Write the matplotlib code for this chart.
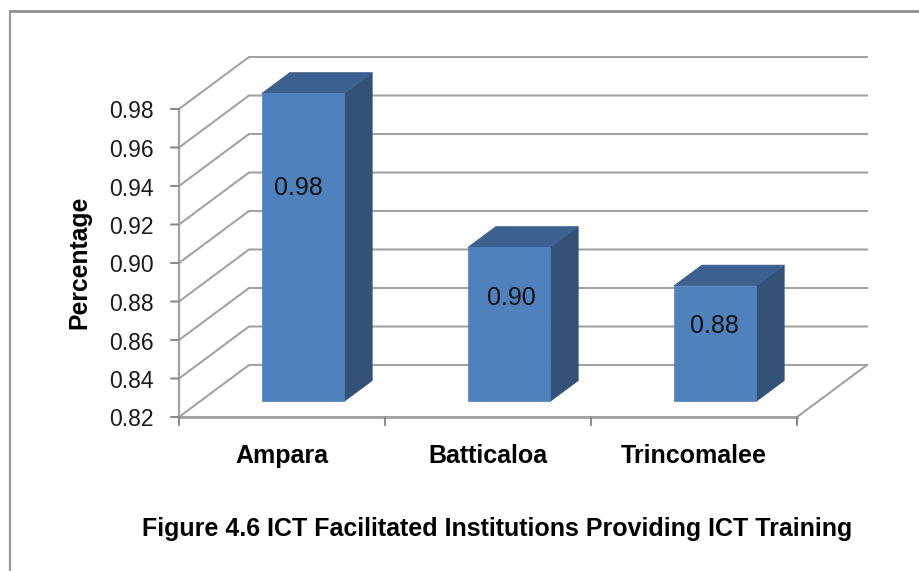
"""ICT facilitated institutions, pseudo-3D column chart drawn on a plain 2D axes"""
import numpy as np
import matplotlib
matplotlib.use('Agg')
import matplotlib.pyplot as plt
from matplotlib.lines import Line2D
from matplotlib.patches import Polygon

categories = ['Ampara', 'Batticaloa', 'Trincomalee']
values = [0.98, 0.90, 0.88]
value_labels = ['0.98', '0.90', '0.88']
y_ticks = [0.82, 0.84, 0.86, 0.88, 0.90, 0.92, 0.94, 0.96, 0.98]
title = 'Figure 4.6 ICT Facilitated Institutions Providing ICT Training'

W, H = 919, 571
plt.rcParams['font.family'] = ['Liberation Sans', 'DejaVu Sans']
fig = plt.figure(figsize=(W / 100, H / 100), dpi=100)

# outer chart frame, only top and left are inside the picture
fig.add_artist(Line2D([9.5 / W, 1], [1 - 11 / H, 1 - 11 / H], color='#8c8c8c', lw=1.9))
fig.add_artist(Line2D([9.5 / W, 9.5 / W], [0, 1 - 11 / H], color='#9a9a9a', lw=1.6))

# axes covers the front plane of the 3D box
x0, x1, y_bot, y_top = 179, 797, 417, 109
ax = fig.add_axes([x0 / W, 1 - y_bot / H, (x1 - x0) / W, (y_bot - y_top) / H])
ax.set_xlim(0, 3)
ax.set_ylim(0.82, 0.98)
ax.axis('off')

# one unit of depth, in data units
ddx = 70.0 / ((x1 - x0) / 3.0)
ddy = 52.0 / ((y_bot - y_top) / 0.16)


def proj(x, y, d):
    return (x + d * ddx, y + d * ddy)


grid_col = '#a3a3a3'
for t in y_ticks:
    p0 = proj(0, t, 0)
    p1 = proj(0, t, 1)
    p2 = proj(3, t, 1)
    ax.plot([p0[0], p1[0], p2[0]], [p0[1], p1[1], p2[1]], color=grid_col, lw=1.5,
            clip_on=False, solid_joinstyle='miter', zorder=1)

# floor edges and axis lines
fr = proj(3, 0.82, 1)
ax.plot([0, 3, fr[0]], [0.82, 0.82, fr[1]], color=grid_col, lw=1.5, clip_on=False, zorder=1)
ax.plot([0, 0], [0.82, 0.98], color=grid_col, lw=1.6, clip_on=False, zorder=1)
ax.plot([0, 3], [0.82, 0.82], color=grid_col, lw=2.0, clip_on=False, zorder=1)

for t in y_ticks:
    ax.annotate('', xy=(0, t), xytext=(-8, 0), textcoords='offset pixels', xycoords='data',
                arrowprops=dict(arrowstyle='-', color='#8c8c8c', lw=1.5, shrinkA=0, shrinkB=0))
    ax.annotate(f'{t:.2f}', xy=(0, t), xytext=(-25, -3), textcoords='offset pixels',
                ha='right', va='center', fontsize=16.5, color='#1a1a1a', annotation_clip=False)
for i in range(len(categories) + 1):
    ax.annotate('', xy=(i, 0.82), xytext=(0, -8), textcoords='offset pixels', xycoords='data',
                arrowprops=dict(arrowstyle='-', color='#8c8c8c', lw=1.5, shrinkA=0, shrinkB=0))

bar_w = 0.40
d_front, d_back = 0.30, 0.70
label_shift = [-5, 2, -1]  # pixels, labels are not quite centred in the original
for i, (v, lab) in enumerate(zip(values, value_labels)):
    xl, xr = i + 0.5 - bar_w / 2, i + 0.5 + bar_w / 2
    front = [proj(xl, 0.82, d_front), proj(xr, 0.82, d_front), proj(xr, v, d_front), proj(xl, v, d_front)]
    side = [proj(xr, 0.82, d_front), proj(xr, 0.82, d_back), proj(xr, v, d_back), proj(xr, v, d_front)]
    top = [proj(xl, v, d_front), proj(xr, v, d_front), proj(xr, v, d_back), proj(xl, v, d_back)]
    ax.add_patch(Polygon(side, closed=True, facecolor='#325278', edgecolor='#325278', lw=0.5, zorder=3, clip_on=False))
    ax.add_patch(Polygon(top, closed=True, facecolor='#3c6190', edgecolor='#3c6190', lw=0.5, zorder=3, clip_on=False))
    ax.add_patch(Polygon(front, closed=True, facecolor='#4f81bd', edgecolor='#4f81bd', lw=0.5, zorder=4, clip_on=False))
    # labels sit above the middle of the column
    cx, cy = proj(i + 0.5, 0.817 + 0.715 * (v - 0.82), d_front)
    ax.annotate(lab, xy=(cx, cy), xytext=(label_shift[i], -1), textcoords='offset pixels', ha='center', va='center',
                fontsize=18, color='#111111', zorder=5)

for i, c in enumerate(categories):
    ax.annotate(c, xy=(i + 0.5, 0.82), xytext=(0, -39), textcoords='offset pixels',
                ha='center', va='center', fontsize=18, fontweight='bold', color='black', annotation_clip=False)

fig.text(79 / W, 1 - 262 / H, 'Percentage', rotation=90, ha='center', va='center',
         fontsize=17.8, fontweight='bold', color='black')
fig.text(497 / W, 1 - 529 / H, title, ha='center', va='center',
         fontsize=18, fontweight='bold', color='black')

fig.savefig('out.png', dpi=100, facecolor='white')
